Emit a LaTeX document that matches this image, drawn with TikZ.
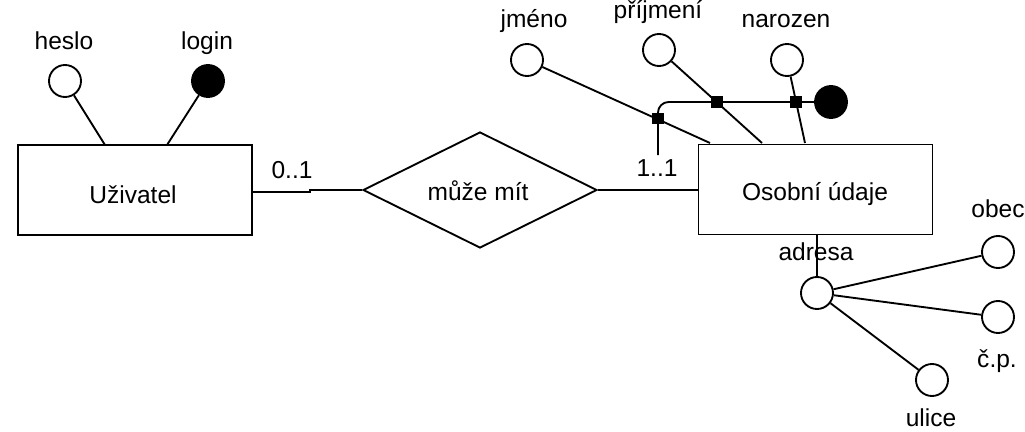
\documentclass[tikz,border=0pt]{standalone}
\usepackage{fontspec}
\setmainfont{Liberation Sans}
\usetikzlibrary{shapes.geometric}
\begin{document}
\begin{tikzpicture}[x=0.75pt,y=-0.75pt,line width=1.4pt,
  every node/.style={font=\fontsize{18.4}{22}\selectfont},
  entity/.style={draw,rectangle,minimum width=175.5pt,minimum height=67.5pt,inner sep=0pt},
  relation/.style={draw,diamond,minimum width=175.5pt,minimum height=87pt,inner sep=0pt},
  attr/.style={draw,circle,fill=white,minimum size=24pt,inner sep=0pt},
  keyattr/.style={draw,circle,fill=black,minimum size=24pt,inner sep=0pt},
  junction/.style={draw,rectangle,fill=black,minimum size=8pt,inner sep=0pt,line width=0.6pt},
  lbl/.style={anchor=base,inner sep=0pt}]
\useasboundingbox (0,0) rectangle (1025,432);

% entities and relation
\node[entity] (uz) at (135,190) {};
\node[lbl] (uzt) at (133,203) {Uživatel};
\node[relation] (rel) at (480,190) {};
\node[lbl] (relt) at (478,200) {může mít};
\node[entity] (os) at (815.5,189.5) {};
\node[lbl] (ost) at (815,200) {Osobní údaje};

% Uzivatel attributes
\node[attr] (heslo) at (65,81) {};
\node[keyattr] (login) at (208,81) {};
\node[lbl] (heslot) at (64,50) {heslo};
\node[lbl] (logint) at (207,50) {login};
\coordinate (heslob) at (105,145);
\coordinate (loginb) at (167,145);
\draw (heslo) -- (heslob);
\draw (login) -- (loginb);

% relation connectors
\draw ([yshift=-1.5pt]uz.east) -- ++(57,0) -- ++(0,-2) -- (rel.west);
\draw (rel.east) -- (rel.east -| os.west);
\node[lbl] (c01) at (292,178) {0..1};
\node[lbl] (c11) at (657,176) {1..1};

% Osobni udaje attributes
\node[attr] (jm) at (527,60) {};
\node[attr] (pr) at (659,50) {};
\node[attr] (na) at (787,60) {};
\node[lbl] (jmt) at (534,27) {jméno};
\node[lbl] (prt) at (658,18) {příjmení};
\node[lbl] (nat) at (786,27) {narozen};
\coordinate (jmb) at (710,143);
\coordinate (prb) at (762,143);
\coordinate (nab) at (805,143);
\draw (jm) -- (jmb);
\draw (pr) -- (prb);
\draw (na) -- (nab);

% composite key
\node[keyattr] (key) at (831,102) {};
\coordinate (keys) at (658,155);
\draw[rounded corners=8pt] (keys) |- (key);
\node[junction] (j1) at (658,118.5) {};
\node[junction] (j2) at (717,102) {};
\node[junction] (j3) at (796,102) {};

% adresa
\node[lbl] (adt) at (816,260) {adresa};
\node[attr] (ad) at (817,293) {};
\draw (ad) -- (ad |- os.south);
\node[attr] (ob) at (998,252) {};
\node[attr] (cp) at (998,317) {};
\node[attr] (ul) at (932,380) {};
\node[lbl] (obt) at (998,217) {obec};
\node[lbl] (cpt) at (997,367) {č.p.};
\node[lbl] (ult) at (931,426) {ulice};
\draw (ad) -- (ob);
\draw (ad) -- (cp);
\draw (ad) -- (ul);
\end{tikzpicture}
\end{document}
